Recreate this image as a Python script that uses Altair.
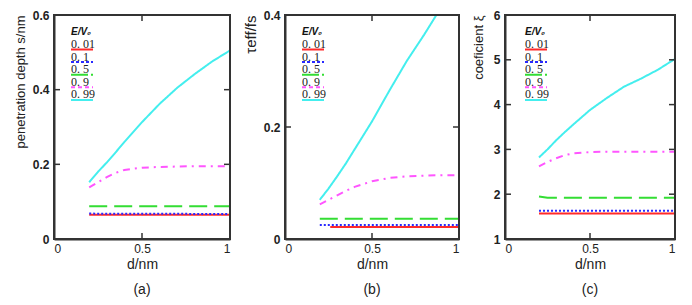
import altair as alt
import pandas as pd

# ---------------- data ----------------
series = ["0.01", "0.1", "0.5", "0.9", "0.99"]
legend_labels = ["0. 01", "0. 1", "0. 5", "0. 9", "0. 99"]
colors = ["#ff2a2a", "#2a2aff", "#33dd33", "#ff55ff", "#44eeee"]
dashes = [[1, 0], [2, 2], [18, 7], [7, 5, 2, 5], [1, 0]]
legend_dashes = [[1, 0], [3, 2], [17, 3, 2, 3], [4, 3], [1, 0]]

d_flat = [0.2, 1.0]
d_curve = [0.2, 0.25, 0.3, 0.35, 0.4, 0.5, 0.6, 0.7, 0.8, 0.9, 1.0]

# panel (a) penetration depth s / nm
a_red = [0.065, 0.065]
a_blue = [0.068, 0.067]
a_green = [0.088, 0.088]
a_magenta = [0.138, 0.152, 0.166, 0.177, 0.185, 0.191, 0.193, 0.194, 0.195, 0.195, 0.195]
a_cyan = [0.152, 0.180, 0.205, 0.232, 0.260, 0.313, 0.362, 0.405, 0.442, 0.476, 0.505]

# panel (b) tau_eff / fs
b_red_d = [0.26, 1.0]
b_red = [0.0215, 0.0215]
b_blue = [0.025, 0.025]
b_green = [0.036, 0.036]
b_magenta = [0.062, 0.070, 0.078, 0.086, 0.093, 0.103, 0.109, 0.112, 0.113, 0.114, 0.114]
b_cyan = [0.070, 0.090, 0.112, 0.135, 0.160, 0.210, 0.265, 0.318, 0.365, 0.415, 0.465]

# panel (c) coefficient xi
c_red = [1.57, 1.57]
c_blue = [1.63, 1.63]
c_green_d = [0.2, 0.25, 1.0]
c_green = [1.95, 1.92, 1.92]
c_magenta = [2.62, 2.72, 2.80, 2.87, 2.91, 2.94, 2.95, 2.95, 2.95, 2.95, 2.95]
c_cyan = [2.82, 3.00, 3.20, 3.38, 3.55, 3.88, 4.15, 4.40, 4.58, 4.78, 5.02]


def long_df(pairs):
    rows = []
    for s, (xs, ys) in zip(series, pairs):
        for i, (x, y) in enumerate(zip(xs, ys)):
            rows.append({"series": s, "d": x, "v": y, "i": i})
    return pd.DataFrame(rows)


df_a = long_df([(d_flat, a_red), (d_flat, a_blue), (d_flat, a_green),
                (d_curve, a_magenta), (d_curve, a_cyan)])
df_b = long_df([(b_red_d, b_red), (d_flat, b_blue), (d_flat, b_green),
                (d_curve, b_magenta), (d_curve, b_cyan)])
df_c = long_df([(d_flat, c_red), (d_flat, c_blue), (c_green_d, c_green),
                (d_curve, c_magenta), (d_curve, c_cyan)])

H = 224
FRAME = "#333333"


def panel(df, ydomain, yvals, yinner, yfmt, ytitle, label, w, ldx, yext, ytp, ytfs):
    xscale = alt.Scale(domain=[0, 1], nice=False)
    yscale = alt.Scale(domain=ydomain, nice=False)
    base = alt.Chart(df)
    lines = base.mark_line(strokeWidth=2, clip=True).encode(
        x=alt.X("d:Q", scale=xscale,
                axis=alt.Axis(values=[0, 0.5, 1], format=".1~f", title="d/nm",
                              ticks=False, domain=True, domainColor=FRAME,
                              domainWidth=2, grid=False,
                              labelFont="Liberation Sans", labelFontSize=12,
                              labelColor="#222", labelPadding=4,
                              titleFont="Liberation Sans", titleFontSize=14,
                              titleFontWeight="normal", titleColor="#222",
                              titlePadding=3)),
        y=alt.Y("v:Q", scale=yscale,
                axis=alt.Axis(values=yvals, format=yfmt, title=ytitle,
                              ticks=False, domain=True, domainColor=FRAME,
                              domainWidth=2, grid=False,
                              labelFont="Liberation Sans", labelFontSize=12,
                              labelFontWeight="bold", labelColor="#222",
                              labelPadding=5, minExtent=yext, maxExtent=yext,
                              titleFont="Liberation Sans", titleFontSize=ytfs,
                              titleFontWeight="normal", titleColor="#222",
                              titleAnchor="end", titlePadding=ytp)),
        color=alt.Color("series:N", scale=alt.Scale(domain=series, range=colors), legend=None),
        strokeDash=alt.StrokeDash("series:N", scale=alt.Scale(domain=series, range=dashes), legend=None),
        order="i:Q",
    )
    # frame: vertical edges at x = 0 and 1, horizontal edges at y-domain ends
    fv = alt.Chart(pd.DataFrame({"fx": [0.0, 1.0], "ylo": [ydomain[0]] * 2,
                                 "yhi": [ydomain[1]] * 2}))
    frame_v = fv.mark_rule(color=FRAME, strokeWidth=2).encode(
        x="fx:Q", y="ylo:Q", y2="yhi:Q")
    fh = alt.Chart(pd.DataFrame({"fy": list(ydomain), "xlo": [0.0, 0.0],
                                 "xhi": [1.0, 1.0]}))
    frame_h = fh.mark_rule(color=FRAME, strokeWidth=2).encode(
        y="fy:Q", x="xlo:Q", x2="xhi:Q")

    xt = alt.Chart(pd.DataFrame({"t": [0.5]}))
    tick_top = xt.mark_rule(color=FRAME, strokeWidth=1.5).encode(
        x="t:Q", y=alt.value(0), y2=alt.value(6))
    tick_bot = xt.mark_rule(color=FRAME, strokeWidth=1.5).encode(
        x="t:Q", y=alt.value(H - 6), y2=alt.value(H))
    yt = alt.Chart(pd.DataFrame({"t": yinner}))
    tick_l = yt.mark_rule(color=FRAME, strokeWidth=1.5).encode(
        y="t:Q", x=alt.value(0), x2=alt.value(6))
    tick_r = yt.mark_rule(color=FRAME, strokeWidth=1.5).encode(
        y="t:Q", x=alt.value(w - 6), x2=alt.value(w))

    one = alt.Chart(pd.DataFrame({"k": [0]}))
    legend_layers = [one.mark_text(text="E/V₀", align="left", baseline="alphabetic",
                                   font="Liberation Sans", fontSize=10,
                                   fontStyle="italic", fontWeight="bold",
                                   color="#111").encode(x=alt.value(ldx), y=alt.value(20))]
    for k, (lab, col, dsh) in enumerate(zip(legend_labels, colors, legend_dashes)):
        yb = 33 + k * 12.6
        legend_layers.append(one.mark_text(text=lab, align="left", baseline="alphabetic",
                                           font="Liberation Serif", fontSize=12,
                                           color="#222").encode(x=alt.value(ldx), y=alt.value(yb)))
        legend_layers.append(one.mark_rule(color=col, strokeWidth=2, strokeDash=dsh).encode(
            x=alt.value(ldx), x2=alt.value(ldx + 22), y=alt.value(yb + 1.5)))
    return alt.layer(lines, frame_v, frame_h, tick_top, tick_bot, tick_l, tick_r,
                     *legend_layers).properties(
        width=w, height=H,
        title=alt.TitleParams(label, orient="bottom", font="Liberation Sans",
                              fontSize=14, fontWeight="normal", color="#222",
                              offset=12))


pa = panel(df_a, [0, 0.6], [0, 0.2, 0.4, 0.6], [0.2, 0.4], ".1~f",
           "penetration depth s/nm", "(a)", 176, 17, 22, 5, 13)
pb = panel(df_b, [0, 0.4], [0, 0.2, 0.4], [0.2], ".1~f",
           "τeff/fs", "(b)", 174, 17, 22, 5, 15)
pc = panel(df_c, [1, 6], [1, 2, 3, 4, 5, 6], [2, 3, 4, 5], "d",
           "coeficient ξ", "(c)", 170, 20, 15, 5, 13)

chart = alt.hconcat(pa, pb, pc, spacing=10).properties(
    padding={"left": 4, "top": 0, "right": 5, "bottom": 0},
    background="white",
).configure_view(stroke=FRAME, strokeWidth=2)

chart.save("out.html", embed_options={"renderer": "svg", "actions": False})
